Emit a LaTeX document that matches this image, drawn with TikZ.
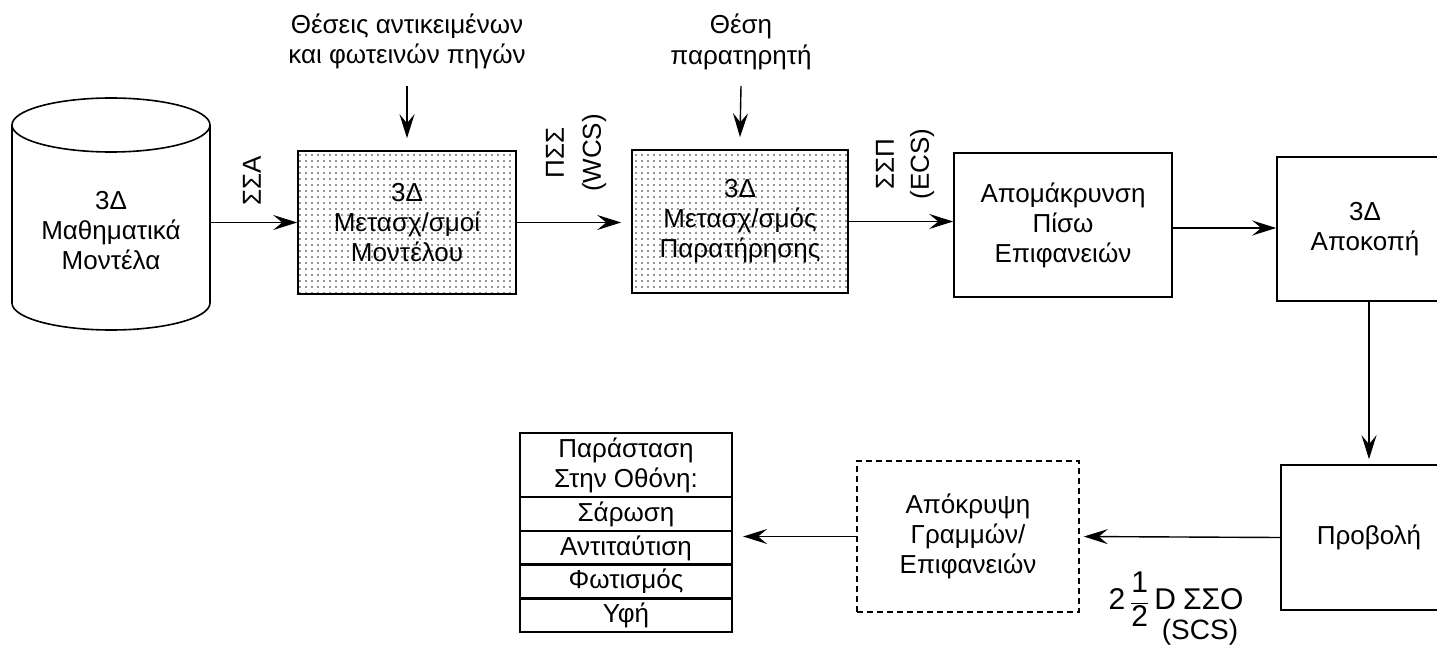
\documentclass[tikz,border=0pt]{standalone}
\usepackage{fontspec}
\setmainfont{Liberation Sans}
\usetikzlibrary{arrows.meta,patterns.meta}
\newcommand\mainsz{\fontsize{26}{30}\selectfont}
\begin{document}
\begin{tikzpicture}[x=1pt,y=-1pt,
  box/.style={draw, line width=1.6pt, minimum width=218pt, minimum height=143pt, align=center, font=\mainsz, inner sep=0pt},
  dotbox/.style={box, pattern={Dots[distance=6pt, radius=0.85pt]}, pattern color=black!85},
  dashbox/.style={box, dash pattern=on 6pt off 4pt},
  arr/.style={line width=1.4pt, -{Stealth[length=24pt, width=15pt, inset=9pt]}},
  lbl/.style={align=center, font=\mainsz, inner sep=0pt},
  cell/.style={draw, line width=2.2pt, minimum width=212pt, minimum height=34pt, inner sep=0pt, align=center, font=\mainsz}]
\useasboundingbox (0,0) rectangle (1437,647);
\clip (0,0) rectangle (1437,647);
% cylinder
\draw[line width=1.6pt] (111,125) ellipse [x radius=99pt, y radius=27pt];
\draw[line width=1.6pt] (12,125) -- (12,303) arc[start angle=180, end angle=360, x radius=99pt, y radius=27pt] -- (210,125);
\node[minimum width=198pt, minimum height=178pt, inner sep=0pt] (cyl) at (111,214) {};
\node[lbl] (cyltext) at (111,231) {3Δ\\Μαθηματικά\\Μοντέλα};
% boxes
\node[dotbox] (b1) at (407,222.5) {3Δ\\Μετασχ/σμοί\\Μοντέλου};
\node[dotbox, minimum width=216pt] (b2) at (740,221.5) {3Δ\\Μετασχ/σμός\\Παρατήρησης};
\node[box, minimum height=144pt] (b3) at (1063,225) {Απομάκρυνση\\Πίσω\\Επιφανειών};
\node[box, minimum width=176pt, minimum height=144pt] (b4) at (1365,229) {3Δ\\Αποκοπή};
\node[box, minimum width=176pt, minimum height=145pt] (b5) at (1369,537.5) {Προβολή};
\node[dashbox, minimum width=222pt, minimum height=151pt] (d) at (968,536.5) {Απόκρυψη\\Γραμμών/\\Επιφανειών};
% stack
\node[cell, minimum height=64pt] (s0) at (626,465) {Παράσταση\\Στην Οθόνη:};
\node[cell] (s1) at (626,514) {Σάρωση};
\node[cell] (s2) at (626,548) {Αντιταύτιση};
\node[cell] (s3) at (626,581.5) {Φωτισμός};
\node[cell] (s4) at (626,615) {Υφή};
% top labels
\node[lbl, font=\fontsize{26}{30}\selectfont] (t1) at (407,41) {Θέσεις αντικειμένων\\και φωτεινών πηγών};
\node[lbl, font=\fontsize{26}{31}\selectfont] (t2) at (741,42) {Θέση\\παρατηρητή};
\coordinate (a1) at (407,86);
\coordinate (a2) at (741,86);
\draw[arr] (a1) -- ([yshift=12pt]b1.north);
\draw[arr] (a2) -- ([yshift=12pt]b2.north);
% rotated labels
\node[lbl, rotate=90] (l1) at (252,181) {ΣΣΑ};
\node[lbl, rotate=90, font=\fontsize{26}{37}\selectfont] (l2) at (576,153) {ΠΣΣ\\(WCS)};
\node[lbl, rotate=90, font=\fontsize{26}{35}\selectfont] (l3) at (905,164) {ΣΣΠ\\(ECS)};
% connectors
\draw[arr] (cyl.east |- b1.west) -- (b1.west);
\draw[arr, shorten >=10pt] (b1.east) -- (b2.west |- b1.east);
\draw[arr] (b2.east) -- (b3.west |- b2.east);
\draw[arr] (b3.east |- 0,228) -- (b4.west |- 0,228);
\draw[arr, shorten >=5pt] (b4.south -| b5.north) -- (b5.north);
\draw[arr, shorten >=4pt] (b5.west) -- (d.east);
\draw[arr, shorten >=10pt] (d.west) -- (s2.east |- d.west);
% 2 1/2 D label
\node[lbl, font=\fontsize{30}{34}\selectfont] (frac) at (1176,599) {2\,$\displaystyle\frac{\mbox{1}}{\mbox{2}}$\,D\hspace{7pt}ΣΣΟ};
\node[lbl, font=\fontsize{28}{32}\selectfont] (scs) at (1200,632) {(SCS)};
\end{tikzpicture}
\end{document}
